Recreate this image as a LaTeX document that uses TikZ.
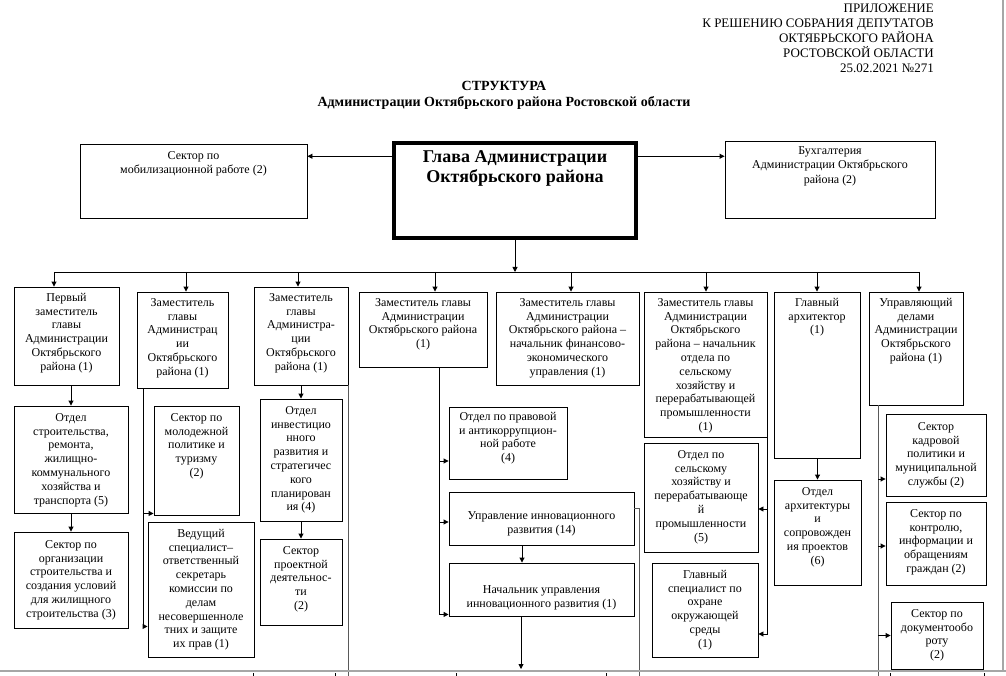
\documentclass[tikz,border=0pt]{standalone}
\usepackage{fontspec}
\setmainfont{Liberation Serif}
\usetikzlibrary{arrows.meta,fit,calc}
\tikzset{
  box/.style={draw, line width=0.9pt, inner sep=0pt, rectangle},
  thickbox/.style={draw, line width=3.5pt, inner sep=0pt, rectangle},
  txt/.style={align=center, inner sep=0pt, anchor=north, font=\fontsize{12}{13.8}\selectfont},
  smalltxt/.style={txt, font=\fontsize{12}{14.6}\selectfont},
  conn/.style={line width=0.9pt},
  arr/.style={conn, -{Triangle[length=5pt,width=5pt]}},
  trunk/.style={line width=1pt, draw=black!65},
  pageedge/.style={line width=2.5pt, draw=black!35},
}
\newcommand\bx[6][txt]{%
  \node[box, fit={#3 #4}] (#2) {};
  \node[#1] (#2t) at ([yshift=-#5pt]#2.north) {\rule{0pt}{0.75em}#6};
}
\begin{document}
\begin{tikzpicture}[x=1pt,y=-1pt]
\useasboundingbox (0,0) rectangle (1006,676);
\fill[white] (0,0) rectangle (1006,676);

% header
\node[anchor=north east, align=right, inner sep=0pt, font=\fontsize{13}{15}\selectfont] (hdr) at (934,2.6)
  {\rule{0pt}{9.8pt}ПРИЛОЖЕНИЕ\\К РЕШЕНИЮ СОБРАНИЯ ДЕПУТАТОВ\\ОКТЯБРЬСКОГО РАЙОНА\\РОСТОВСКОЙ ОБЛАСТИ\\25.02.2021 №271};
\node[anchor=north, align=center, inner sep=0pt, font=\bfseries\fontsize{14}{16}\selectfont] (title) at (504,79.5)
  {\rule{0pt}{10.5pt}СТРУКТУРА\\Администрации Октябрьского района Ростовской области};

% top row
\bx[smalltxt]{mob}{(80,144)}{(307,218)}{6.6}{Сектор  по\\мобилизационной работе (2)}
\node[thickbox, fit={(394,143) (636,238)}] (glava) {};
\node[txt, font=\bfseries\fontsize{18}{19.5}\selectfont] (glavat) at ([yshift=-7.9pt]glava.north)
  {\rule{0pt}{0.75em}Глава Администрации\\Октябрьского района};
\bx[smalltxt]{buh}{(725,141)}{(935,218)}{4.6}{Бухгалтерия\\Администрации Октябрьского\\района (2)}

\draw[arr] ([yshift=-15pt]glava.north west) -- ([yshift=-15pt]glava.north west -| mob.east);
\draw[arr] ([yshift=-15pt]glava.north east) -- ([yshift=-15pt]glava.north east -| buh.west);

% second row
\bx{c1}{(14,287)}{(119,385)}{5.6}{Первый\\заместитель\\главы\\Администрации\\Октябрьского\\района (1)}
\bx{c2}{(137,292)}{(228,388)}{5.6}{Заместитель\\главы\\Администрац\\ии\\Октябрьского\\района (1)}
\bx{c3}{(254,287)}{(348,385)}{5.6}{Заместитель\\главы\\Администра-\\ции\\Октябрьского\\района (1)}
\bx{c4}{(359,292)}{(487,367)}{5.6}{Заместитель главы\\Администрации\\Октябрьского района\\(1)}
\bx{c5}{(496,292)}{(639,385)}{5.6}{Заместитель  главы\\Администрации\\Октябрьского района –\\начальник финансово-\\экономического\\управления (1)}
\bx{c6}{(644,292)}{(767,437)}{5.6}{Заместитель  главы\\Администрации\\Октябрьского\\района – начальник\\отдела по\\сельскому\\хозяйству и\\перерабатывающей\\промышленности\\(1)}
\bx{c7}{(774,292)}{(860,458)}{5.6}{Главный\\архитектор\\(1)}
\bx{c8}{(869,292)}{(963,405)}{5.6}{Управляющий\\делами\\Администрации\\Октябрьского\\района (1)}

% bus
\coordinate (busL) at (54,272);
\coordinate (busR) at (919,272);
\coordinate (d2) at (186,272);
\coordinate (d3) at (298,272);
\coordinate (d4) at (435,272);
\coordinate (d5) at (571,272);
\coordinate (d6) at (706,272);
\coordinate (d7) at (817,272);
\draw[arr] (glava.south) -- (glava.south |- busL);
\draw[conn] (busL) -- (busR);
\draw[arr] (busL) -- (busL |- c1.north);
\draw[arr] (d2) -- (d2 |- c2.north);
\draw[arr] (d3) -- (d3 |- c3.north);
\draw[arr] (d4) -- (d4 |- c4.north);
\draw[arr] (d5) -- (d5 |- c5.north);
\draw[arr] (d6) -- (d6 |- c6.north);
\draw[arr] (d7) -- (d7 |- c7.north);
\draw[arr] (busR) -- (busR |- c8.north);

% sub boxes
\bx{s1a}{(14,406)}{(128,513)}{6.6}{Отдел\\строительства,\\ремонта,\\жилищно-\\коммунального\\хозяйства и\\транспорта (5)}
\bx{s1b}{(14,532)}{(128,628)}{7.6}{Сектор по\\организации\\строительства и\\создания условий\\для жилищного\\строительства (3)}
\bx{s2a}{(154,406)}{(239,515)}{6.6}{Сектор по\\молодежной\\политике и\\туризму\\(2)}
\bx{s2b}{(148,522)}{(254,657)}{6.6}{Ведущий\\специалист–\\ответственный\\секретарь\\комиссии по\\делам\\несовершенноле\\тних и защите\\их прав (1)}
\bx{s3a}{(260,399)}{(342,521)}{6.6}{Отдел\\инвестицио\\нного\\развития и\\стратегичес\\кого\\планирован\\ия (4)}
\bx{s3b}{(260,539)}{(342,625)}{6.6}{Сектор\\проектной\\деятельнос-\\ти\\(2)}
\bx{s4a}{(449,407)}{(567,479)}{4.6}{Отдел по правовой\\и антикоррупцион-\\ной работе\\(4)}
\bx{s4b}{(449,492)}{(634,545)}{18.6}{Управление инновационного\\развития  (14)}
\bx{s4c}{(449,563)}{(634,616)}{21.6}{Начальник управления\\инновационного  развития  (1)}
\bx{s6a}{(644,443)}{(758,552)}{6.6}{Отдел по\\сельскому\\хозяйству и\\перерабатывающе\\й\\промышленности\\(5)}
\bx{s6b}{(652,563)}{(758,657)}{6.6}{Главный\\специалист  по\\охране\\окружающей\\среды\\(1)}
\bx{s7a}{(774,480)}{(861,585)}{6.6}{Отдел\\архитектуры\\и\\сопровожден\\ия проектов\\(6)}
\bx{s8a}{(886,414)}{(986,496)}{7.6}{Сектор\\кадровой\\политики и\\муниципальной\\службы (2)}
\bx{s8b}{(886,502)}{(986,585)}{6.6}{Сектор по\\контролю,\\информации и\\обращениям\\граждан (2)}
\bx{s8c}{(891,602)}{(983,669)}{6.6}{Сектор по\\документообо\\роту\\(2)}

\coordinate (bot) at (0,676);
\coordinate (pb) at (0,669);
\coordinate (t2x) at (143,0);
\coordinate (t4x) at (439,0);
\coordinate (r4x) at (639,0);
\coordinate (t8x) at (878,0);

% column 1
\draw[arr] (s1a.north |- c1.south) -- (s1a.north);
\draw[arr] (s1b.north |- s1a.south) -- (s1b.north);
% column 2
\draw[arr] (c2.south -| t2x) |- ([yshift=2pt]s2a.south west);
\draw[arr] (c2.south -| t2x) |- ([yshift=31pt]s2b.south west);
% column 3
\draw[arr] (s3a.north |- c3.south) -- (s3a.north);
\draw[arr] (s3b.north |- s3a.south) -- (s3b.north);
\draw[trunk] (c3.south east) -- (c3.south east |- bot);
% column 4
\draw[arr] (c4.south -| t4x) |- ([yshift=-18pt]s4a.west);
\draw[arr] (c4.south -| t4x) |- ([yshift=-3.5pt]s4b.west);
\draw[arr] (c4.south -| t4x) |- ([yshift=2pt]s4c.south west);
\draw[arr] ([xshift=-19.5pt]s4b.south) -- ([xshift=-19.5pt]s4c.north);
\draw[arr] ([xshift=-20.5pt]s4c.south) -- ([xshift=-20.5pt]s4c.south |- pb);
\draw[trunk] ([yshift=10.5pt]s4b.east) -| (r4x |- bot);
% column 6
\draw[arr] (c6.south east) |- ([yshift=-11.5pt]s6a.east);
\draw[arr] (c6.south east) |- ([yshift=-24pt]s6b.east);
% column 7
\draw[arr] (s7a.north |- c7.south) -- (s7a.north);
% column 8
\draw[trunk] (c8.south -| t8x) -- (t8x |- bot);
\draw[arr] ([yshift=-24pt]s8a.west -| t8x) -- ([yshift=-24pt]s8a.west);
\draw[arr] ([yshift=-2.5pt]s8b.west -| t8x) -- ([yshift=-2.5pt]s8b.west);
\draw[arr] (s8c.west -| t8x) -- (s8c.west);

% page edges and bottom ticks
\draw[pageedge] (0,671) -- (1006,671);
\draw[pageedge] (1003,0) -- (1003,671);
\foreach \x in {253,335,456,606,890,984} \draw[conn] (\x,673) -- (\x,676);
\end{tikzpicture}
\end{document}
